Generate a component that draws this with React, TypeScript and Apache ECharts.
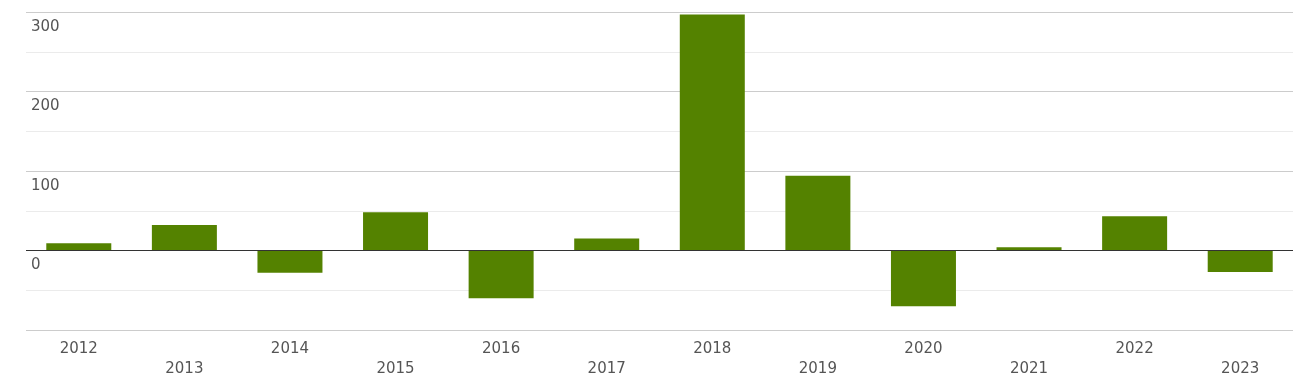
import React, { useEffect, useRef } from "react";
import * as echarts from "echarts";

const years = ["2012", "2013", "2014", "2015", "2016", "2017", "2018", "2019", "2020", "2021", "2022", "2023"];
const values = [9, 32, -28, 48, -60, 15, 297, 94, -70, 4, 43, -27];
const yTicks = { min: -100, max: 300, interval: 100 };

export default function App() {
  const ref = useRef<HTMLDivElement>(null);
  useEffect(() => {
    const chart = echarts.init(ref.current!, null, { renderer: "svg" });
    chart.setOption({
      animation: false,
      grid: { left: 26, right: 0, top: 12, bottom: 54, outerBoundsMode: "none" } as any,
      xAxis: {
        type: "category",
        data: years,
        axisLine: { show: false, onZero: false },
        axisTick: { show: false },
        axisLabel: {
          interval: 0,
          margin: 8,
          color: "#555",
          fontFamily: "DejaVu Sans",
          fontSize: 15,
          lineHeight: 20,
          formatter: (v: string, i: number) => (i % 2 ? "\n" + v : v),
        },
      },
      yAxis: {
        type: "value",
        min: yTicks.min,
        max: yTicks.max,
        interval: yTicks.interval,
        axisLine: { show: false },
        axisTick: { show: false },
        axisLabel: {
          inside: true,
          margin: 5,
          align: "left",
          verticalAlign: "top",
          padding: [6, 0, 0, 0],
          color: "#555",
          fontFamily: "DejaVu Sans",
          fontSize: 15,
          showMinLabel: false,
        },
        splitLine: { lineStyle: { color: "#cccccc", width: 1 } },
        minorTick: { show: false, splitNumber: 2 },
        minorSplitLine: { show: true, lineStyle: { color: "#ebebeb", width: 1 } },
      },
      series: [
        {
          type: "bar",
          data: values,
          barWidth: 65,
          itemStyle: { color: "#548200" },
          markLine: {
            silent: true,
            symbol: "none",
            label: { show: false },
            lineStyle: { color: "#333", width: 1, type: "solid" },
            data: [{ yAxis: 0 }],
          },
        },
      ],
    });
    return () => chart.dispose();
  }, []);
  return <div ref={ref} style={{ position: "fixed", left: 0, top: 0, width: 1293, height: 384 }} />;
}
